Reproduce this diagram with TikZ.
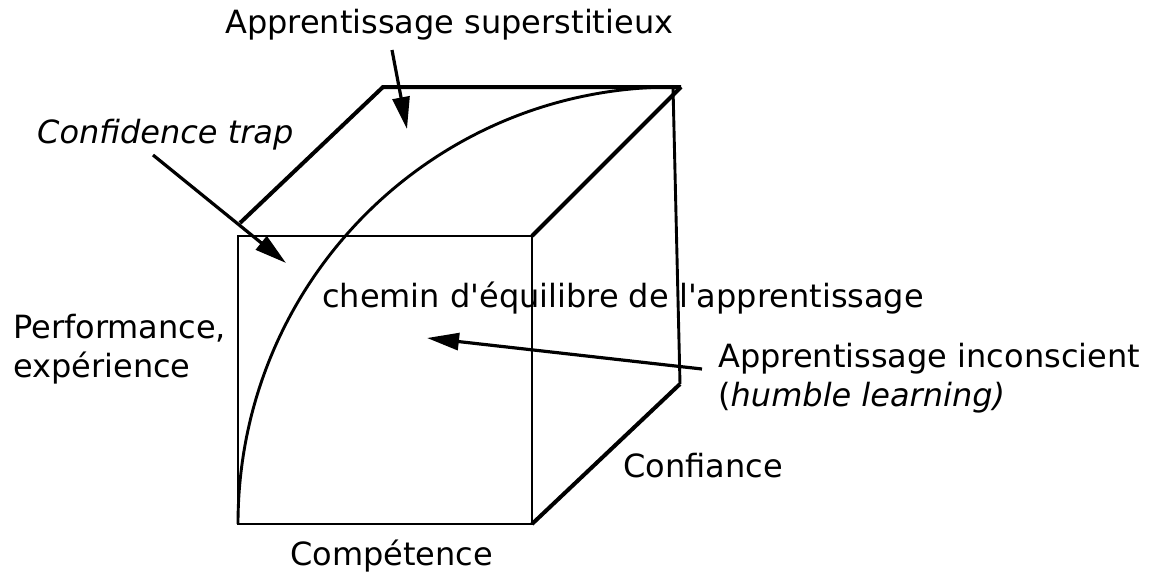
\documentclass[tikz,border=0pt]{standalone}
\usepackage{fontspec}
\setmainfont{DejaVu Sans}[Ligatures=TeXOff]
\usetikzlibrary{arrows.meta}
\begin{document}
\begin{tikzpicture}[x=1pt,y=-1pt,
  lbl/.style={anchor=base west,inner sep=0pt,font=\fontsize{32}{39}\selectfont},
  thinedge/.style={line width=2.9pt},
  thickedge/.style={line width=4pt},
  arr/.style={line width=3.2pt,-{Triangle[length=32pt,width=17pt]}}]
\useasboundingbox (0,0) rectangle (1151,573);
% cube corners
\coordinate (ftl) at (238,236);
\coordinate (ftr) at (532,236);
\coordinate (fbr) at (532,524);
\coordinate (fbl) at (238,524);
\coordinate (lt)  at (240,223);
\coordinate (btl) at (383,87);
\coordinate (btr) at (681,87);
\coordinate (vt)  at (673,87);
\coordinate (vb)  at (680,384);
% cube
\draw[thinedge,line join=miter] (ftl) -- (ftr) -- (fbr) -- (fbl) -- cycle;
\draw[thickedge,line join=miter] (lt) -- (btl) -- (btr);
\draw[thickedge] (ftr) -- (btr);
\draw[thinedge] (vt) -- (vb);
\draw[thickedge] (vb) -- (fbr);
% path of equilibrium
\draw[thinedge] (fbl) .. controls (238,282) and (432,87) .. (vt);
% labels
\node[lbl] (sup) at (225,33) {Apprentissage superstitieux};
\node[lbl] (trap) at (37,143) {\itshape Confidence trap};
\node[lbl] (chem) at (322,307) {chemin d'équilibre de l'apprentissage};
\node[lbl] (perf) at (13,338) {Performance,};
\node[lbl] (expe) at (13,377) {expérience};
\node[lbl] (inco) at (718,367) {Apprentissage inconscient};
\node[lbl] (humb) at (718,406) {(\textit{humble learning)}};
\node[lbl] (conf) at (623,477) {Confiance};
\node[lbl] (comp) at (290,565) {Compétence};
% arrows
\coordinate (s1) at (392,50);
\coordinate (t1) at (407,129);
\coordinate (s2) at (153,155);
\coordinate (t2) at (286,263);
\coordinate (s3) at (702,369);
\coordinate (t3) at (427,338);
\draw[arr] (s1) -- (t1);
\draw[arr] (s2) -- (t2);
\draw[arr] (s3) -- (t3);
\end{tikzpicture}
\end{document}
